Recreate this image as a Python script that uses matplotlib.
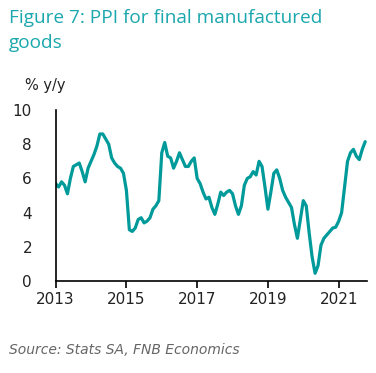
import numpy as np
import matplotlib
matplotlib.use("Agg")
import matplotlib.pyplot as plt

# monthly PPI for final manufactured goods, % y/y, Jan 2013 - Oct 2021
start_year = 2013
ppi = [
    5.7, 5.5, 5.8, 5.6, 5.1, 6.0, 6.7, 6.8, 6.9, 6.4, 5.8, 6.6,   # 2013
    7.0, 7.4, 7.9, 8.6, 8.6, 8.3, 8.0, 7.2, 6.9, 6.7, 6.6, 6.3,   # 2014
    5.3, 3.0, 2.9, 3.1, 3.6, 3.7, 3.4, 3.5, 3.7, 4.2, 4.4, 4.7,   # 2015
    7.5, 8.1, 7.3, 7.2, 6.6, 7.0, 7.5, 7.1, 6.7, 6.7, 7.0, 7.2,   # 2016
    6.0, 5.7, 5.2, 4.8, 4.9, 4.3, 3.9, 4.5, 5.2, 5.0, 5.2, 5.3,   # 2017
    5.1, 4.4, 3.9, 4.4, 5.6, 6.0, 6.1, 6.4, 6.2, 7.0, 6.7, 5.5,   # 2018
    4.2, 5.2, 6.3, 6.5, 6.0, 5.3, 4.9, 4.6, 4.3, 3.3, 2.5, 3.6,   # 2019
    4.7, 4.4, 2.8, 1.4, 0.45, 0.9, 2.1, 2.5, 2.7, 2.9, 3.1, 3.15, # 2020
    3.5, 4.0, 5.5, 7.0, 7.5, 7.7, 7.3, 7.1, 7.7, 8.15,            # 2021
]
year_ticks = [2013, 2015, 2017, 2019, 2021]
y_ticks = [0, 2, 4, 6, 8, 10]

teal = "#009a9a"
title_teal = "#1aa7ad"

dates = start_year + np.arange(len(ppi)) / 12.0

fig = plt.figure(figsize=(3.76, 3.73), dpi=100)
ax = fig.add_axes([0.148, 0.2466, 0.828, 0.4584])

ax.plot(dates, ppi, color=teal, lw=2.3, solid_capstyle="round")

ax.set_xlim(2013, 2021.8)
ax.set_ylim(0, 10)
ax.set_xticks(year_ticks)
ax.set_xticklabels([str(y) for y in year_ticks])
ax.set_yticks(y_ticks)
ax.tick_params(axis="y", length=0, pad=17, labelsize=11)
ax.tick_params(axis="x", length=5, width=1.2, pad=3, labelsize=11)
for lab in ax.get_yticklabels() + ax.get_xticklabels():
    lab.set_color("#222222")
ax.spines["top"].set_visible(False)
ax.spines["right"].set_visible(False)
ax.spines["left"].set_linewidth(1.2)
ax.spines["bottom"].set_linewidth(1.2)

fig.text(0.024, 0.975, "Figure 7: PPI for final manufactured\ngoods", color=title_teal,
         fontsize=13.7, va="top", ha="left", linespacing=1.45, family="Open Sans")
fig.text(0.067, 0.772, "% y/y", fontsize=10.5, color="#222222", va="center", ha="left")
fig.text(0.024, 0.062, "Source: Stats SA, FNB Economics", fontsize=10, color="#666666",
         style="italic", va="center", ha="left")

fig.savefig("out.png", dpi=100)
